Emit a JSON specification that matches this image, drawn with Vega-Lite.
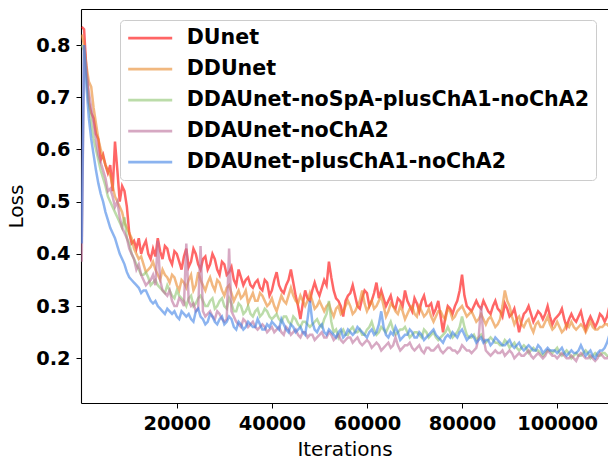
{
  "$schema": "https://vega.github.io/schema/vega-lite/v6.json",
  "autosize": "none",
  "width": 527,
  "height": 394,
  "padding": {"left": 81, "top": 9, "right": 0, "bottom": 58},
  "background": "white",
  "config": {
    "view": {"stroke": null},
    "font": "DejaVu Sans",
    "axis": {
      "labelFont": "DejaVu Sans", "labelFontWeight": "bold", "labelFontSize": 19.4, "labelColor": "black",
      "titleFont": "DejaVu Sans", "titleFontWeight": "normal", "titleFontSize": 20, "titleColor": "black",
      "tickColor": "black", "domainColor": "black", "tickSize": 5, "tickWidth": 1, "domainWidth": 1.1, "grid": false
    }
  },
  "datasets": {
    "loss": [
      {"x":0,"DUnet":0.835,"DDUnet":0.82,"DDAUnet-noSpA-plusChA1-noChA2":0.80,"DDAUnet-noChA2":0.385,"DDAUnet-plusChA1-noChA2":0.42},
      {"x":500,"DUnet":0.83,"DDUnet":0.80,"DDAUnet-noSpA-plusChA1-noChA2":0.79,"DDAUnet-noChA2":0.80,"DDAUnet-plusChA1-noChA2":0.80},
      {"x":1000,"DUnet":0.75,"DDUnet":0.76,"DDAUnet-noSpA-plusChA1-noChA2":0.74,"DDAUnet-noChA2":0.75,"DDAUnet-plusChA1-noChA2":0.72},
      {"x":1500,"DUnet":0.69,"DDUnet":0.73,"DDAUnet-noSpA-plusChA1-noChA2":0.69,"DDAUnet-noChA2":0.71,"DDAUnet-plusChA1-noChA2":0.66},
      {"x":2000,"DUnet":0.67,"DDUnet":0.72,"DDAUnet-noSpA-plusChA1-noChA2":0.65,"DDAUnet-noChA2":0.68,"DDAUnet-plusChA1-noChA2":0.62},
      {"x":2500,"DUnet":0.66,"DDUnet":0.68,"DDAUnet-noSpA-plusChA1-noChA2":0.62,"DDAUnet-noChA2":0.65,"DDAUnet-plusChA1-noChA2":0.59},
      {"x":3000,"DUnet":0.63,"DDUnet":0.65,"DDAUnet-noSpA-plusChA1-noChA2":0.60,"DDAUnet-noChA2":0.62,"DDAUnet-plusChA1-noChA2":0.56},
      {"x":3500,"DUnet":0.62,"DDUnet":0.62,"DDAUnet-noSpA-plusChA1-noChA2":0.58,"DDAUnet-noChA2":0.59,"DDAUnet-plusChA1-noChA2":0.535},
      {"x":4000,"DUnet":0.58,"DDUnet":0.60,"DDAUnet-noSpA-plusChA1-noChA2":0.56,"DDAUnet-noChA2":0.575,"DDAUnet-plusChA1-noChA2":0.515},
      {"x":4500,"DUnet":0.59,"DDUnet":0.585,"DDAUnet-noSpA-plusChA1-noChA2":0.545,"DDAUnet-noChA2":0.56,"DDAUnet-plusChA1-noChA2":0.50},
      {"x":5000,"DUnet":0.57,"DDUnet":0.57,"DDAUnet-noSpA-plusChA1-noChA2":0.53,"DDAUnet-noChA2":0.545,"DDAUnet-plusChA1-noChA2":0.48},
      {"x":5500,"DUnet":0.555,"DDUnet":0.56,"DDAUnet-noSpA-plusChA1-noChA2":0.51,"DDAUnet-noChA2":0.52,"DDAUnet-plusChA1-noChA2":0.465},
      {"x":6000,"DUnet":0.57,"DDUnet":0.55,"DDAUnet-noSpA-plusChA1-noChA2":0.50,"DDAUnet-noChA2":0.525,"DDAUnet-plusChA1-noChA2":0.45},
      {"x":6500,"DUnet":0.52,"DDUnet":0.53,"DDAUnet-noSpA-plusChA1-noChA2":0.49,"DDAUnet-noChA2":0.51,"DDAUnet-plusChA1-noChA2":0.44},
      {"x":7000,"DUnet":0.615,"DDUnet":0.51,"DDAUnet-noSpA-plusChA1-noChA2":0.48,"DDAUnet-noChA2":0.49,"DDAUnet-plusChA1-noChA2":0.43},
      {"x":7500,"DUnet":0.56,"DDUnet":0.50,"DDAUnet-noSpA-plusChA1-noChA2":0.47,"DDAUnet-noChA2":0.50,"DDAUnet-plusChA1-noChA2":0.415},
      {"x":8000,"DUnet":0.50,"DDUnet":0.49,"DDAUnet-noSpA-plusChA1-noChA2":0.46,"DDAUnet-noChA2":0.47,"DDAUnet-plusChA1-noChA2":0.40},
      {"x":8500,"DUnet":0.53,"DDUnet":0.48,"DDAUnet-noSpA-plusChA1-noChA2":0.45,"DDAUnet-noChA2":0.45,"DDAUnet-plusChA1-noChA2":0.39},
      {"x":9000,"DUnet":0.52,"DDUnet":0.46,"DDAUnet-noSpA-plusChA1-noChA2":0.47,"DDAUnet-noChA2":0.44,"DDAUnet-plusChA1-noChA2":0.38},
      {"x":9500,"DUnet":0.49,"DDUnet":0.45,"DDAUnet-noSpA-plusChA1-noChA2":0.43,"DDAUnet-noChA2":0.43,"DDAUnet-plusChA1-noChA2":0.365},
      {"x":10000,"DUnet":0.44,"DDUnet":0.44,"DDAUnet-noSpA-plusChA1-noChA2":0.42,"DDAUnet-noChA2":0.41,"DDAUnet-plusChA1-noChA2":0.355},
      {"x":10500,"DUnet":0.42,"DDUnet":0.43,"DDAUnet-noSpA-plusChA1-noChA2":0.40,"DDAUnet-noChA2":0.40,"DDAUnet-plusChA1-noChA2":0.35},
      {"x":11000,"DUnet":0.425,"DDUnet":0.41,"DDAUnet-noSpA-plusChA1-noChA2":0.39,"DDAUnet-noChA2":0.39,"DDAUnet-plusChA1-noChA2":0.345},
      {"x":11500,"DUnet":0.41,"DDUnet":0.40,"DDAUnet-noSpA-plusChA1-noChA2":0.38,"DDAUnet-noChA2":0.37,"DDAUnet-plusChA1-noChA2":0.34},
      {"x":12000,"DUnet":0.43,"DDUnet":0.39,"DDAUnet-noSpA-plusChA1-noChA2":0.37,"DDAUnet-noChA2":0.38,"DDAUnet-plusChA1-noChA2":0.335},
      {"x":13000,"DUnet":0.415,"DDUnet":0.38,"DDAUnet-noSpA-plusChA1-noChA2":0.36,"DDAUnet-noChA2":0.35,"DDAUnet-plusChA1-noChA2":0.33},
      {"x":14000,"DUnet":0.40,"DDUnet":0.37,"DDAUnet-noSpA-plusChA1-noChA2":0.355,"DDAUnet-noChA2":0.345,"DDAUnet-plusChA1-noChA2":0.32},
      {"x":15000,"DUnet":0.41,"DDUnet":0.385,"DDAUnet-noSpA-plusChA1-noChA2":0.345,"DDAUnet-noChA2":0.36,"DDAUnet-plusChA1-noChA2":0.305},
      {"x":16000,"DUnet":0.43,"DDUnet":0.36,"DDAUnet-noSpA-plusChA1-noChA2":0.34,"DDAUnet-noChA2":0.425,"DDAUnet-plusChA1-noChA2":0.30},
      {"x":17000,"DUnet":0.39,"DDUnet":0.37,"DDAUnet-noSpA-plusChA1-noChA2":0.33,"DDAUnet-noChA2":0.33,"DDAUnet-plusChA1-noChA2":0.29},
      {"x":18000,"DUnet":0.41,"DDUnet":0.355,"DDAUnet-noSpA-plusChA1-noChA2":0.34,"DDAUnet-noChA2":0.32,"DDAUnet-plusChA1-noChA2":0.295},
      {"x":19000,"DUnet":0.38,"DDUnet":0.36,"DDAUnet-noSpA-plusChA1-noChA2":0.32,"DDAUnet-noChA2":0.31,"DDAUnet-plusChA1-noChA2":0.285},
      {"x":20000,"DUnet":0.40,"DDUnet":0.34,"DDAUnet-noSpA-plusChA1-noChA2":0.33,"DDAUnet-noChA2":0.30,"DDAUnet-plusChA1-noChA2":0.28},
      {"x":21000,"DUnet":0.37,"DDUnet":0.35,"DDAUnet-noSpA-plusChA1-noChA2":0.315,"DDAUnet-noChA2":0.31,"DDAUnet-plusChA1-noChA2":0.29},
      {"x":22000,"DUnet":0.41,"DDUnet":0.335,"DDAUnet-noSpA-plusChA1-noChA2":0.30,"DDAUnet-noChA2":0.42,"DDAUnet-plusChA1-noChA2":0.28},
      {"x":23000,"DUnet":0.385,"DDUnet":0.36,"DDAUnet-noSpA-plusChA1-noChA2":0.32,"DDAUnet-noChA2":0.30,"DDAUnet-plusChA1-noChA2":0.275},
      {"x":24000,"DUnet":0.40,"DDUnet":0.34,"DDAUnet-noSpA-plusChA1-noChA2":0.305,"DDAUnet-noChA2":0.29,"DDAUnet-plusChA1-noChA2":0.29},
      {"x":25000,"DUnet":0.37,"DDUnet":0.35,"DDAUnet-noSpA-plusChA1-noChA2":0.32,"DDAUnet-noChA2":0.415,"DDAUnet-plusChA1-noChA2":0.28},
      {"x":26000,"DUnet":0.395,"DDUnet":0.33,"DDAUnet-noSpA-plusChA1-noChA2":0.30,"DDAUnet-noChA2":0.28,"DDAUnet-plusChA1-noChA2":0.265},
      {"x":27000,"DUnet":0.38,"DDUnet":0.355,"DDAUnet-noSpA-plusChA1-noChA2":0.31,"DDAUnet-noChA2":0.29,"DDAUnet-plusChA1-noChA2":0.285},
      {"x":28000,"DUnet":0.39,"DDUnet":0.33,"DDAUnet-noSpA-plusChA1-noChA2":0.295,"DDAUnet-noChA2":0.275,"DDAUnet-plusChA1-noChA2":0.27},
      {"x":29000,"DUnet":0.36,"DDUnet":0.345,"DDAUnet-noSpA-plusChA1-noChA2":0.31,"DDAUnet-noChA2":0.285,"DDAUnet-plusChA1-noChA2":0.275},
      {"x":30000,"DUnet":0.38,"DDUnet":0.32,"DDAUnet-noSpA-plusChA1-noChA2":0.30,"DDAUnet-noChA2":0.27,"DDAUnet-plusChA1-noChA2":0.265},
      {"x":31000,"DUnet":0.365,"DDUnet":0.34,"DDAUnet-noSpA-plusChA1-noChA2":0.315,"DDAUnet-noChA2":0.41,"DDAUnet-plusChA1-noChA2":0.28},
      {"x":32000,"DUnet":0.35,"DDUnet":0.31,"DDAUnet-noSpA-plusChA1-noChA2":0.29,"DDAUnet-noChA2":0.28,"DDAUnet-plusChA1-noChA2":0.26},
      {"x":33000,"DUnet":0.37,"DDUnet":0.33,"DDAUnet-noSpA-plusChA1-noChA2":0.305,"DDAUnet-noChA2":0.265,"DDAUnet-plusChA1-noChA2":0.27},
      {"x":34000,"DUnet":0.34,"DDUnet":0.32,"DDAUnet-noSpA-plusChA1-noChA2":0.285,"DDAUnet-noChA2":0.275,"DDAUnet-plusChA1-noChA2":0.255},
      {"x":35000,"DUnet":0.355,"DDUnet":0.305,"DDAUnet-noSpA-plusChA1-noChA2":0.30,"DDAUnet-noChA2":0.26,"DDAUnet-plusChA1-noChA2":0.27},
      {"x":36000,"DUnet":0.335,"DDUnet":0.325,"DDAUnet-noSpA-plusChA1-noChA2":0.28,"DDAUnet-noChA2":0.27,"DDAUnet-plusChA1-noChA2":0.26},
      {"x":37000,"DUnet":0.35,"DDUnet":0.31,"DDAUnet-noSpA-plusChA1-noChA2":0.295,"DDAUnet-noChA2":0.255,"DDAUnet-plusChA1-noChA2":0.275},
      {"x":38000,"DUnet":0.33,"DDUnet":0.32,"DDAUnet-noSpA-plusChA1-noChA2":0.285,"DDAUnet-noChA2":0.265,"DDAUnet-plusChA1-noChA2":0.255},
      {"x":39000,"DUnet":0.345,"DDUnet":0.30,"DDAUnet-noSpA-plusChA1-noChA2":0.29,"DDAUnet-noChA2":0.25,"DDAUnet-plusChA1-noChA2":0.265},
      {"x":40000,"DUnet":0.33,"DDUnet":0.315,"DDAUnet-noSpA-plusChA1-noChA2":0.275,"DDAUnet-noChA2":0.26,"DDAUnet-plusChA1-noChA2":0.27},
      {"x":41000,"DUnet":0.365,"DDUnet":0.29,"DDAUnet-noSpA-plusChA1-noChA2":0.285,"DDAUnet-noChA2":0.255,"DDAUnet-plusChA1-noChA2":0.26},
      {"x":42000,"DUnet":0.33,"DDUnet":0.32,"DDAUnet-noSpA-plusChA1-noChA2":0.27,"DDAUnet-noChA2":0.25,"DDAUnet-plusChA1-noChA2":0.275},
      {"x":43000,"DUnet":0.34,"DDUnet":0.305,"DDAUnet-noSpA-plusChA1-noChA2":0.28,"DDAUnet-noChA2":0.26,"DDAUnet-plusChA1-noChA2":0.255},
      {"x":44000,"DUnet":0.37,"DDUnet":0.335,"DDAUnet-noSpA-plusChA1-noChA2":0.265,"DDAUnet-noChA2":0.245,"DDAUnet-plusChA1-noChA2":0.265},
      {"x":45000,"DUnet":0.32,"DDUnet":0.31,"DDAUnet-noSpA-plusChA1-noChA2":0.275,"DDAUnet-noChA2":0.255,"DDAUnet-plusChA1-noChA2":0.25},
      {"x":46000,"DUnet":0.275,"DDUnet":0.32,"DDAUnet-noSpA-plusChA1-noChA2":0.26,"DDAUnet-noChA2":0.24,"DDAUnet-plusChA1-noChA2":0.26},
      {"x":47000,"DUnet":0.33,"DDUnet":0.30,"DDAUnet-noSpA-plusChA1-noChA2":0.27,"DDAUnet-noChA2":0.25,"DDAUnet-plusChA1-noChA2":0.245},
      {"x":48000,"DUnet":0.31,"DDUnet":0.325,"DDAUnet-noSpA-plusChA1-noChA2":0.26,"DDAUnet-noChA2":0.245,"DDAUnet-plusChA1-noChA2":0.31},
      {"x":49000,"DUnet":0.345,"DDUnet":0.295,"DDAUnet-noSpA-plusChA1-noChA2":0.27,"DDAUnet-noChA2":0.235,"DDAUnet-plusChA1-noChA2":0.255},
      {"x":50000,"DUnet":0.32,"DDUnet":0.31,"DDAUnet-noSpA-plusChA1-noChA2":0.265,"DDAUnet-noChA2":0.245,"DDAUnet-plusChA1-noChA2":0.26},
      {"x":51000,"DUnet":0.35,"DDUnet":0.29,"DDAUnet-noSpA-plusChA1-noChA2":0.275,"DDAUnet-noChA2":0.24,"DDAUnet-plusChA1-noChA2":0.25},
      {"x":52000,"DUnet":0.385,"DDUnet":0.305,"DDAUnet-noSpA-plusChA1-noChA2":0.31,"DDAUnet-noChA2":0.25,"DDAUnet-plusChA1-noChA2":0.255},
      {"x":53000,"DUnet":0.33,"DDUnet":0.28,"DDAUnet-noSpA-plusChA1-noChA2":0.25,"DDAUnet-noChA2":0.235,"DDAUnet-plusChA1-noChA2":0.245},
      {"x":54000,"DUnet":0.31,"DDUnet":0.30,"DDAUnet-noSpA-plusChA1-noChA2":0.24,"DDAUnet-noChA2":0.245,"DDAUnet-plusChA1-noChA2":0.25},
      {"x":55000,"DUnet":0.28,"DDUnet":0.29,"DDAUnet-noSpA-plusChA1-noChA2":0.255,"DDAUnet-noChA2":0.23,"DDAUnet-plusChA1-noChA2":0.24},
      {"x":56000,"DUnet":0.32,"DDUnet":0.31,"DDAUnet-noSpA-plusChA1-noChA2":0.245,"DDAUnet-noChA2":0.24,"DDAUnet-plusChA1-noChA2":0.255},
      {"x":57000,"DUnet":0.34,"DDUnet":0.285,"DDAUnet-noSpA-plusChA1-noChA2":0.26,"DDAUnet-noChA2":0.23,"DDAUnet-plusChA1-noChA2":0.245},
      {"x":58000,"DUnet":0.30,"DDUnet":0.30,"DDAUnet-noSpA-plusChA1-noChA2":0.25,"DDAUnet-noChA2":0.24,"DDAUnet-plusChA1-noChA2":0.26},
      {"x":59000,"DUnet":0.315,"DDUnet":0.33,"DDAUnet-noSpA-plusChA1-noChA2":0.245,"DDAUnet-noChA2":0.225,"DDAUnet-plusChA1-noChA2":0.25},
      {"x":60000,"DUnet":0.325,"DDUnet":0.29,"DDAUnet-noSpA-plusChA1-noChA2":0.255,"DDAUnet-noChA2":0.235,"DDAUnet-plusChA1-noChA2":0.24},
      {"x":61000,"DUnet":0.31,"DDUnet":0.31,"DDAUnet-noSpA-plusChA1-noChA2":0.27,"DDAUnet-noChA2":0.22,"DDAUnet-plusChA1-noChA2":0.255},
      {"x":62000,"DUnet":0.345,"DDUnet":0.30,"DDAUnet-noSpA-plusChA1-noChA2":0.245,"DDAUnet-noChA2":0.23,"DDAUnet-plusChA1-noChA2":0.25},
      {"x":63000,"DUnet":0.33,"DDUnet":0.32,"DDAUnet-noSpA-plusChA1-noChA2":0.26,"DDAUnet-noChA2":0.215,"DDAUnet-plusChA1-noChA2":0.29},
      {"x":64000,"DUnet":0.30,"DDUnet":0.28,"DDAUnet-noSpA-plusChA1-noChA2":0.25,"DDAUnet-noChA2":0.225,"DDAUnet-plusChA1-noChA2":0.245},
      {"x":65000,"DUnet":0.32,"DDUnet":0.305,"DDAUnet-noSpA-plusChA1-noChA2":0.27,"DDAUnet-noChA2":0.22,"DDAUnet-plusChA1-noChA2":0.25},
      {"x":66000,"DUnet":0.295,"DDUnet":0.29,"DDAUnet-noSpA-plusChA1-noChA2":0.245,"DDAUnet-noChA2":0.24,"DDAUnet-plusChA1-noChA2":0.26},
      {"x":67000,"DUnet":0.31,"DDUnet":0.30,"DDAUnet-noSpA-plusChA1-noChA2":0.255,"DDAUnet-noChA2":0.215,"DDAUnet-plusChA1-noChA2":0.235},
      {"x":68000,"DUnet":0.33,"DDUnet":0.275,"DDAUnet-noSpA-plusChA1-noChA2":0.26,"DDAUnet-noChA2":0.225,"DDAUnet-plusChA1-noChA2":0.245},
      {"x":69000,"DUnet":0.30,"DDUnet":0.295,"DDAUnet-noSpA-plusChA1-noChA2":0.24,"DDAUnet-noChA2":0.23,"DDAUnet-plusChA1-noChA2":0.255},
      {"x":70000,"DUnet":0.315,"DDUnet":0.285,"DDAUnet-noSpA-plusChA1-noChA2":0.25,"DDAUnet-noChA2":0.215,"DDAUnet-plusChA1-noChA2":0.24},
      {"x":71000,"DUnet":0.29,"DDUnet":0.30,"DDAUnet-noSpA-plusChA1-noChA2":0.245,"DDAUnet-noChA2":0.225,"DDAUnet-plusChA1-noChA2":0.25},
      {"x":72000,"DUnet":0.32,"DDUnet":0.28,"DDAUnet-noSpA-plusChA1-noChA2":0.255,"DDAUnet-noChA2":0.21,"DDAUnet-plusChA1-noChA2":0.235},
      {"x":73000,"DUnet":0.30,"DDUnet":0.295,"DDAUnet-noSpA-plusChA1-noChA2":0.24,"DDAUnet-noChA2":0.22,"DDAUnet-plusChA1-noChA2":0.245},
      {"x":74000,"DUnet":0.285,"DDUnet":0.27,"DDAUnet-noSpA-plusChA1-noChA2":0.25,"DDAUnet-noChA2":0.215,"DDAUnet-plusChA1-noChA2":0.255},
      {"x":75000,"DUnet":0.31,"DDUnet":0.29,"DDAUnet-noSpA-plusChA1-noChA2":0.235,"DDAUnet-noChA2":0.225,"DDAUnet-plusChA1-noChA2":0.24},
      {"x":76000,"DUnet":0.25,"DDUnet":0.28,"DDAUnet-noSpA-plusChA1-noChA2":0.245,"DDAUnet-noChA2":0.21,"DDAUnet-plusChA1-noChA2":0.23},
      {"x":77000,"DUnet":0.30,"DDUnet":0.295,"DDAUnet-noSpA-plusChA1-noChA2":0.26,"DDAUnet-noChA2":0.22,"DDAUnet-plusChA1-noChA2":0.245},
      {"x":78000,"DUnet":0.285,"DDUnet":0.275,"DDAUnet-noSpA-plusChA1-noChA2":0.24,"DDAUnet-noChA2":0.215,"DDAUnet-plusChA1-noChA2":0.25},
      {"x":79000,"DUnet":0.31,"DDUnet":0.29,"DDAUnet-noSpA-plusChA1-noChA2":0.25,"DDAUnet-noChA2":0.21,"DDAUnet-plusChA1-noChA2":0.24},
      {"x":80000,"DUnet":0.36,"DDUnet":0.30,"DDAUnet-noSpA-plusChA1-noChA2":0.28,"DDAUnet-noChA2":0.225,"DDAUnet-plusChA1-noChA2":0.255},
      {"x":81000,"DUnet":0.30,"DDUnet":0.28,"DDAUnet-noSpA-plusChA1-noChA2":0.245,"DDAUnet-noChA2":0.215,"DDAUnet-plusChA1-noChA2":0.235},
      {"x":82000,"DUnet":0.29,"DDUnet":0.29,"DDAUnet-noSpA-plusChA1-noChA2":0.24,"DDAUnet-noChA2":0.21,"DDAUnet-plusChA1-noChA2":0.245},
      {"x":83000,"DUnet":0.31,"DDUnet":0.27,"DDAUnet-noSpA-plusChA1-noChA2":0.235,"DDAUnet-noChA2":0.22,"DDAUnet-plusChA1-noChA2":0.23},
      {"x":84000,"DUnet":0.295,"DDUnet":0.285,"DDAUnet-noSpA-plusChA1-noChA2":0.245,"DDAUnet-noChA2":0.30,"DDAUnet-plusChA1-noChA2":0.24},
      {"x":85000,"DUnet":0.30,"DDUnet":0.265,"DDAUnet-noSpA-plusChA1-noChA2":0.23,"DDAUnet-noChA2":0.215,"DDAUnet-plusChA1-noChA2":0.235},
      {"x":86000,"DUnet":0.285,"DDUnet":0.28,"DDAUnet-noSpA-plusChA1-noChA2":0.24,"DDAUnet-noChA2":0.205,"DDAUnet-plusChA1-noChA2":0.225},
      {"x":87000,"DUnet":0.31,"DDUnet":0.26,"DDAUnet-noSpA-plusChA1-noChA2":0.23,"DDAUnet-noChA2":0.215,"DDAUnet-plusChA1-noChA2":0.24},
      {"x":88000,"DUnet":0.29,"DDUnet":0.275,"DDAUnet-noSpA-plusChA1-noChA2":0.225,"DDAUnet-noChA2":0.21,"DDAUnet-plusChA1-noChA2":0.23},
      {"x":89000,"DUnet":0.305,"DDUnet":0.33,"DDAUnet-noSpA-plusChA1-noChA2":0.235,"DDAUnet-noChA2":0.205,"DDAUnet-plusChA1-noChA2":0.225},
      {"x":90000,"DUnet":0.28,"DDUnet":0.30,"DDAUnet-noSpA-plusChA1-noChA2":0.22,"DDAUnet-noChA2":0.215,"DDAUnet-plusChA1-noChA2":0.235},
      {"x":91000,"DUnet":0.295,"DDUnet":0.265,"DDAUnet-noSpA-plusChA1-noChA2":0.23,"DDAUnet-noChA2":0.20,"DDAUnet-plusChA1-noChA2":0.22},
      {"x":92000,"DUnet":0.25,"DDUnet":0.28,"DDAUnet-noSpA-plusChA1-noChA2":0.215,"DDAUnet-noChA2":0.21,"DDAUnet-plusChA1-noChA2":0.23},
      {"x":93000,"DUnet":0.285,"DDUnet":0.26,"DDAUnet-noSpA-plusChA1-noChA2":0.225,"DDAUnet-noChA2":0.205,"DDAUnet-plusChA1-noChA2":0.215},
      {"x":94000,"DUnet":0.30,"DDUnet":0.275,"DDAUnet-noSpA-plusChA1-noChA2":0.21,"DDAUnet-noChA2":0.215,"DDAUnet-plusChA1-noChA2":0.225},
      {"x":95000,"DUnet":0.27,"DDUnet":0.25,"DDAUnet-noSpA-plusChA1-noChA2":0.22,"DDAUnet-noChA2":0.20,"DDAUnet-plusChA1-noChA2":0.215},
      {"x":96000,"DUnet":0.29,"DDUnet":0.27,"DDAUnet-noSpA-plusChA1-noChA2":0.215,"DDAUnet-noChA2":0.21,"DDAUnet-plusChA1-noChA2":0.225},
      {"x":97000,"DUnet":0.275,"DDUnet":0.26,"DDAUnet-noSpA-plusChA1-noChA2":0.205,"DDAUnet-noChA2":0.20,"DDAUnet-plusChA1-noChA2":0.21},
      {"x":98000,"DUnet":0.30,"DDUnet":0.28,"DDAUnet-noSpA-plusChA1-noChA2":0.215,"DDAUnet-noChA2":0.215,"DDAUnet-plusChA1-noChA2":0.22},
      {"x":99000,"DUnet":0.265,"DDUnet":0.255,"DDAUnet-noSpA-plusChA1-noChA2":0.21,"DDAUnet-noChA2":0.205,"DDAUnet-plusChA1-noChA2":0.215},
      {"x":100000,"DUnet":0.28,"DDUnet":0.27,"DDAUnet-noSpA-plusChA1-noChA2":0.22,"DDAUnet-noChA2":0.20,"DDAUnet-plusChA1-noChA2":0.21},
      {"x":101000,"DUnet":0.295,"DDUnet":0.25,"DDAUnet-noSpA-plusChA1-noChA2":0.205,"DDAUnet-noChA2":0.21,"DDAUnet-plusChA1-noChA2":0.22},
      {"x":102000,"DUnet":0.26,"DDUnet":0.265,"DDAUnet-noSpA-plusChA1-noChA2":0.215,"DDAUnet-noChA2":0.20,"DDAUnet-plusChA1-noChA2":0.205},
      {"x":103000,"DUnet":0.285,"DDUnet":0.27,"DDAUnet-noSpA-plusChA1-noChA2":0.20,"DDAUnet-noChA2":0.205,"DDAUnet-plusChA1-noChA2":0.215},
      {"x":104000,"DUnet":0.27,"DDUnet":0.255,"DDAUnet-noSpA-plusChA1-noChA2":0.21,"DDAUnet-noChA2":0.195,"DDAUnet-plusChA1-noChA2":0.21},
      {"x":105000,"DUnet":0.29,"DDUnet":0.265,"DDAUnet-noSpA-plusChA1-noChA2":0.205,"DDAUnet-noChA2":0.21,"DDAUnet-plusChA1-noChA2":0.225},
      {"x":106000,"DUnet":0.255,"DDUnet":0.25,"DDAUnet-noSpA-plusChA1-noChA2":0.215,"DDAUnet-noChA2":0.20,"DDAUnet-plusChA1-noChA2":0.205},
      {"x":107000,"DUnet":0.28,"DDUnet":0.27,"DDAUnet-noSpA-plusChA1-noChA2":0.20,"DDAUnet-noChA2":0.205,"DDAUnet-plusChA1-noChA2":0.215},
      {"x":108000,"DUnet":0.26,"DDUnet":0.255,"DDAUnet-noSpA-plusChA1-noChA2":0.21,"DDAUnet-noChA2":0.195,"DDAUnet-plusChA1-noChA2":0.20},
      {"x":109000,"DUnet":0.285,"DDUnet":0.26,"DDAUnet-noSpA-plusChA1-noChA2":0.205,"DDAUnet-noChA2":0.21,"DDAUnet-plusChA1-noChA2":0.215},
      {"x":110000,"DUnet":0.27,"DDUnet":0.265,"DDAUnet-noSpA-plusChA1-noChA2":0.21,"DDAUnet-noChA2":0.20,"DDAUnet-plusChA1-noChA2":0.22},
      {"x":111000,"DUnet":0.30,"DDUnet":0.26,"DDAUnet-noSpA-plusChA1-noChA2":0.205,"DDAUnet-noChA2":0.205,"DDAUnet-plusChA1-noChA2":0.245},
      {"x":12500,"DUnet":0.40,"DDUnet":0.395,"DDAUnet-noSpA-plusChA1-noChA2":0.36,"DDAUnet-noChA2":0.36,"DDAUnet-plusChA1-noChA2":0.325},
      {"x":13500,"DUnet":0.425,"DDUnet":0.365,"DDAUnet-noSpA-plusChA1-noChA2":0.365,"DDAUnet-noChA2":0.34,"DDAUnet-plusChA1-noChA2":0.33},
      {"x":14500,"DUnet":0.39,"DDUnet":0.375,"DDAUnet-noSpA-plusChA1-noChA2":0.34,"DDAUnet-noChA2":0.35,"DDAUnet-plusChA1-noChA2":0.31},
      {"x":15500,"DUnet":0.395,"DDUnet":0.37,"DDAUnet-noSpA-plusChA1-noChA2":0.35,"DDAUnet-noChA2":0.34,"DDAUnet-plusChA1-noChA2":0.31},
      {"x":16500,"DUnet":0.405,"DDUnet":0.35,"DDAUnet-noSpA-plusChA1-noChA2":0.335,"DDAUnet-noChA2":0.35,"DDAUnet-plusChA1-noChA2":0.295},
      {"x":17500,"DUnet":0.415,"DDUnet":0.36,"DDAUnet-noSpA-plusChA1-noChA2":0.325,"DDAUnet-noChA2":0.325,"DDAUnet-plusChA1-noChA2":0.285},
      {"x":18500,"DUnet":0.39,"DDUnet":0.345,"DDAUnet-noSpA-plusChA1-noChA2":0.33,"DDAUnet-noChA2":0.33,"DDAUnet-plusChA1-noChA2":0.29},
      {"x":19500,"DUnet":0.405,"DDUnet":0.355,"DDAUnet-noSpA-plusChA1-noChA2":0.315,"DDAUnet-noChA2":0.30,"DDAUnet-plusChA1-noChA2":0.29},
      {"x":20500,"DUnet":0.385,"DDUnet":0.33,"DDAUnet-noSpA-plusChA1-noChA2":0.32,"DDAUnet-noChA2":0.315,"DDAUnet-plusChA1-noChA2":0.275},
      {"x":21500,"DUnet":0.395,"DDUnet":0.345,"DDAUnet-noSpA-plusChA1-noChA2":0.31,"DDAUnet-noChA2":0.30,"DDAUnet-plusChA1-noChA2":0.285},
      {"x":22500,"DUnet":0.375,"DDUnet":0.35,"DDAUnet-noSpA-plusChA1-noChA2":0.315,"DDAUnet-noChA2":0.31,"DDAUnet-plusChA1-noChA2":0.285},
      {"x":23500,"DUnet":0.41,"DDUnet":0.33,"DDAUnet-noSpA-plusChA1-noChA2":0.30,"DDAUnet-noChA2":0.305,"DDAUnet-plusChA1-noChA2":0.27},
      {"x":24500,"DUnet":0.38,"DDUnet":0.365,"DDAUnet-noSpA-plusChA1-noChA2":0.315,"DDAUnet-noChA2":0.295,"DDAUnet-plusChA1-noChA2":0.295},
      {"x":25500,"DUnet":0.39,"DDUnet":0.34,"DDAUnet-noSpA-plusChA1-noChA2":0.31,"DDAUnet-noChA2":0.29,"DDAUnet-plusChA1-noChA2":0.275},
      {"x":26500,"DUnet":0.37,"DDUnet":0.345,"DDAUnet-noSpA-plusChA1-noChA2":0.30,"DDAUnet-noChA2":0.285,"DDAUnet-plusChA1-noChA2":0.27},
      {"x":27500,"DUnet":0.40,"DDUnet":0.34,"DDAUnet-noSpA-plusChA1-noChA2":0.315,"DDAUnet-noChA2":0.28,"DDAUnet-plusChA1-noChA2":0.28},
      {"x":28500,"DUnet":0.37,"DDUnet":0.35,"DDAUnet-noSpA-plusChA1-noChA2":0.30,"DDAUnet-noChA2":0.29,"DDAUnet-plusChA1-noChA2":0.265},
      {"x":29500,"DUnet":0.385,"DDUnet":0.33,"DDAUnet-noSpA-plusChA1-noChA2":0.315,"DDAUnet-noChA2":0.275,"DDAUnet-plusChA1-noChA2":0.28},
      {"x":30500,"DUnet":0.36,"DDUnet":0.335,"DDAUnet-noSpA-plusChA1-noChA2":0.295,"DDAUnet-noChA2":0.275,"DDAUnet-plusChA1-noChA2":0.27},
      {"x":31500,"DUnet":0.375,"DDUnet":0.325,"DDAUnet-noSpA-plusChA1-noChA2":0.305,"DDAUnet-noChA2":0.29,"DDAUnet-plusChA1-noChA2":0.275},
      {"x":32500,"DUnet":0.34,"DDUnet":0.32,"DDAUnet-noSpA-plusChA1-noChA2":0.29,"DDAUnet-noChA2":0.27,"DDAUnet-plusChA1-noChA2":0.255},
      {"x":33500,"DUnet":0.355,"DDUnet":0.315,"DDAUnet-noSpA-plusChA1-noChA2":0.30,"DDAUnet-noChA2":0.26,"DDAUnet-plusChA1-noChA2":0.265},
      {"x":34500,"DUnet":0.35,"DDUnet":0.33,"DDAUnet-noSpA-plusChA1-noChA2":0.29,"DDAUnet-noChA2":0.27,"DDAUnet-plusChA1-noChA2":0.26},
      {"x":35500,"DUnet":0.34,"DDUnet":0.315,"DDAUnet-noSpA-plusChA1-noChA2":0.285,"DDAUnet-noChA2":0.265,"DDAUnet-plusChA1-noChA2":0.265},
      {"x":36500,"DUnet":0.345,"DDUnet":0.31,"DDAUnet-noSpA-plusChA1-noChA2":0.29,"DDAUnet-noChA2":0.26,"DDAUnet-plusChA1-noChA2":0.26},
      {"x":37500,"DUnet":0.335,"DDUnet":0.325,"DDAUnet-noSpA-plusChA1-noChA2":0.28,"DDAUnet-noChA2":0.26,"DDAUnet-plusChA1-noChA2":0.265},
      {"x":38500,"DUnet":0.35,"DDUnet":0.31,"DDAUnet-noSpA-plusChA1-noChA2":0.295,"DDAUnet-noChA2":0.26,"DDAUnet-plusChA1-noChA2":0.255},
      {"x":39500,"DUnet":0.32,"DDUnet":0.305,"DDAUnet-noSpA-plusChA1-noChA2":0.28,"DDAUnet-noChA2":0.255,"DDAUnet-plusChA1-noChA2":0.26},
      {"x":40500,"DUnet":0.35,"DDUnet":0.30,"DDAUnet-noSpA-plusChA1-noChA2":0.28,"DDAUnet-noChA2":0.25,"DDAUnet-plusChA1-noChA2":0.265},
      {"x":41500,"DUnet":0.34,"DDUnet":0.305,"DDAUnet-noSpA-plusChA1-noChA2":0.275,"DDAUnet-noChA2":0.26,"DDAUnet-plusChA1-noChA2":0.255},
      {"x":42500,"DUnet":0.325,"DDUnet":0.31,"DDAUnet-noSpA-plusChA1-noChA2":0.28,"DDAUnet-noChA2":0.245,"DDAUnet-plusChA1-noChA2":0.265},
      {"x":43500,"DUnet":0.35,"DDUnet":0.32,"DDAUnet-noSpA-plusChA1-noChA2":0.27,"DDAUnet-noChA2":0.255,"DDAUnet-plusChA1-noChA2":0.25},
      {"x":44500,"DUnet":0.345,"DDUnet":0.32,"DDAUnet-noSpA-plusChA1-noChA2":0.28,"DDAUnet-noChA2":0.25,"DDAUnet-plusChA1-noChA2":0.26},
      {"x":45500,"DUnet":0.30,"DDUnet":0.305,"DDAUnet-noSpA-plusChA1-noChA2":0.265,"DDAUnet-noChA2":0.245,"DDAUnet-plusChA1-noChA2":0.255},
      {"x":46500,"DUnet":0.305,"DDUnet":0.31,"DDAUnet-noSpA-plusChA1-noChA2":0.27,"DDAUnet-noChA2":0.25,"DDAUnet-plusChA1-noChA2":0.25},
      {"x":47500,"DUnet":0.315,"DDUnet":0.31,"DDAUnet-noSpA-plusChA1-noChA2":0.265,"DDAUnet-noChA2":0.24,"DDAUnet-plusChA1-noChA2":0.275},
      {"x":48500,"DUnet":0.33,"DDUnet":0.31,"DDAUnet-noSpA-plusChA1-noChA2":0.265,"DDAUnet-noChA2":0.245,"DDAUnet-plusChA1-noChA2":0.27},
      {"x":49500,"DUnet":0.33,"DDUnet":0.30,"DDAUnet-noSpA-plusChA1-noChA2":0.275,"DDAUnet-noChA2":0.24,"DDAUnet-plusChA1-noChA2":0.25},
      {"x":50500,"DUnet":0.335,"DDUnet":0.30,"DDAUnet-noSpA-plusChA1-noChA2":0.26,"DDAUnet-noChA2":0.25,"DDAUnet-plusChA1-noChA2":0.265},
      {"x":51500,"DUnet":0.34,"DDUnet":0.30,"DDAUnet-noSpA-plusChA1-noChA2":0.285,"DDAUnet-noChA2":0.24,"DDAUnet-plusChA1-noChA2":0.245},
      {"x":52500,"DUnet":0.355,"DDUnet":0.29,"DDAUnet-noSpA-plusChA1-noChA2":0.27,"DDAUnet-noChA2":0.245,"DDAUnet-plusChA1-noChA2":0.25},
      {"x":53500,"DUnet":0.315,"DDUnet":0.295,"DDAUnet-noSpA-plusChA1-noChA2":0.255,"DDAUnet-noChA2":0.24,"DDAUnet-plusChA1-noChA2":0.24},
      {"x":54500,"DUnet":0.30,"DDUnet":0.285,"DDAUnet-noSpA-plusChA1-noChA2":0.25,"DDAUnet-noChA2":0.235,"DDAUnet-plusChA1-noChA2":0.255},
      {"x":55500,"DUnet":0.31,"DDUnet":0.30,"DDAUnet-noSpA-plusChA1-noChA2":0.245,"DDAUnet-noChA2":0.235,"DDAUnet-plusChA1-noChA2":0.245},
      {"x":56500,"DUnet":0.325,"DDUnet":0.30,"DDAUnet-noSpA-plusChA1-noChA2":0.255,"DDAUnet-noChA2":0.24,"DDAUnet-plusChA1-noChA2":0.25},
      {"x":57500,"DUnet":0.32,"DDUnet":0.29,"DDAUnet-noSpA-plusChA1-noChA2":0.25,"DDAUnet-noChA2":0.235,"DDAUnet-plusChA1-noChA2":0.25},
      {"x":58500,"DUnet":0.295,"DDUnet":0.31,"DDAUnet-noSpA-plusChA1-noChA2":0.255,"DDAUnet-noChA2":0.23,"DDAUnet-plusChA1-noChA2":0.255},
      {"x":59500,"DUnet":0.33,"DDUnet":0.305,"DDAUnet-noSpA-plusChA1-noChA2":0.245,"DDAUnet-noChA2":0.23,"DDAUnet-plusChA1-noChA2":0.245},
      {"x":60500,"DUnet":0.30,"DDUnet":0.30,"DDAUnet-noSpA-plusChA1-noChA2":0.26,"DDAUnet-noChA2":0.23,"DDAUnet-plusChA1-noChA2":0.25},
      {"x":61500,"DUnet":0.325,"DDUnet":0.295,"DDAUnet-noSpA-plusChA1-noChA2":0.255,"DDAUnet-noChA2":0.225,"DDAUnet-plusChA1-noChA2":0.245},
      {"x":62500,"DUnet":0.315,"DDUnet":0.31,"DDAUnet-noSpA-plusChA1-noChA2":0.25,"DDAUnet-noChA2":0.225,"DDAUnet-plusChA1-noChA2":0.265},
      {"x":63500,"DUnet":0.315,"DDUnet":0.30,"DDAUnet-noSpA-plusChA1-noChA2":0.255,"DDAUnet-noChA2":0.22,"DDAUnet-plusChA1-noChA2":0.26},
      {"x":64500,"DUnet":0.31,"DDUnet":0.29,"DDAUnet-noSpA-plusChA1-noChA2":0.26,"DDAUnet-noChA2":0.23,"DDAUnet-plusChA1-noChA2":0.24},
      {"x":65500,"DUnet":0.30,"DDUnet":0.30,"DDAUnet-noSpA-plusChA1-noChA2":0.255,"DDAUnet-noChA2":0.225,"DDAUnet-plusChA1-noChA2":0.245},
      {"x":66500,"DUnet":0.315,"DDUnet":0.285,"DDAUnet-noSpA-plusChA1-noChA2":0.25,"DDAUnet-noChA2":0.225,"DDAUnet-plusChA1-noChA2":0.25},
      {"x":67500,"DUnet":0.30,"DDUnet":0.29,"DDAUnet-noSpA-plusChA1-noChA2":0.255,"DDAUnet-noChA2":0.22,"DDAUnet-plusChA1-noChA2":0.24},
      {"x":68500,"DUnet":0.31,"DDUnet":0.285,"DDAUnet-noSpA-plusChA1-noChA2":0.25,"DDAUnet-noChA2":0.225,"DDAUnet-plusChA1-noChA2":0.245},
      {"x":69500,"DUnet":0.29,"DDUnet":0.30,"DDAUnet-noSpA-plusChA1-noChA2":0.245,"DDAUnet-noChA2":0.22,"DDAUnet-plusChA1-noChA2":0.25},
      {"x":70500,"DUnet":0.305,"DDUnet":0.28,"DDAUnet-noSpA-plusChA1-noChA2":0.25,"DDAUnet-noChA2":0.22,"DDAUnet-plusChA1-noChA2":0.24},
      {"x":71500,"DUnet":0.31,"DDUnet":0.29,"DDAUnet-noSpA-plusChA1-noChA2":0.24,"DDAUnet-noChA2":0.215,"DDAUnet-plusChA1-noChA2":0.245},
      {"x":72500,"DUnet":0.30,"DDUnet":0.285,"DDAUnet-noSpA-plusChA1-noChA2":0.25,"DDAUnet-noChA2":0.22,"DDAUnet-plusChA1-noChA2":0.24},
      {"x":73500,"DUnet":0.305,"DDUnet":0.28,"DDAUnet-noSpA-plusChA1-noChA2":0.245,"DDAUnet-noChA2":0.215,"DDAUnet-plusChA1-noChA2":0.25},
      {"x":74500,"DUnet":0.295,"DDUnet":0.28,"DDAUnet-noSpA-plusChA1-noChA2":0.24,"DDAUnet-noChA2":0.22,"DDAUnet-plusChA1-noChA2":0.245},
      {"x":75500,"DUnet":0.28,"DDUnet":0.29,"DDAUnet-noSpA-plusChA1-noChA2":0.24,"DDAUnet-noChA2":0.215,"DDAUnet-plusChA1-noChA2":0.235},
      {"x":76500,"DUnet":0.28,"DDUnet":0.275,"DDAUnet-noSpA-plusChA1-noChA2":0.25,"DDAUnet-noChA2":0.215,"DDAUnet-plusChA1-noChA2":0.24},
      {"x":77500,"DUnet":0.295,"DDUnet":0.29,"DDAUnet-noSpA-plusChA1-noChA2":0.25,"DDAUnet-noChA2":0.22,"DDAUnet-plusChA1-noChA2":0.24},
      {"x":78500,"DUnet":0.30,"DDUnet":0.28,"DDAUnet-noSpA-plusChA1-noChA2":0.245,"DDAUnet-noChA2":0.215,"DDAUnet-plusChA1-noChA2":0.245},
      {"x":79500,"DUnet":0.33,"DDUnet":0.295,"DDAUnet-noSpA-plusChA1-noChA2":0.26,"DDAUnet-noChA2":0.215,"DDAUnet-plusChA1-noChA2":0.25},
      {"x":80500,"DUnet":0.32,"DDUnet":0.29,"DDAUnet-noSpA-plusChA1-noChA2":0.26,"DDAUnet-noChA2":0.22,"DDAUnet-plusChA1-noChA2":0.245},
      {"x":81500,"DUnet":0.295,"DDUnet":0.285,"DDAUnet-noSpA-plusChA1-noChA2":0.24,"DDAUnet-noChA2":0.215,"DDAUnet-plusChA1-noChA2":0.24},
      {"x":82500,"DUnet":0.30,"DDUnet":0.28,"DDAUnet-noSpA-plusChA1-noChA2":0.245,"DDAUnet-noChA2":0.215,"DDAUnet-plusChA1-noChA2":0.24},
      {"x":83500,"DUnet":0.30,"DDUnet":0.275,"DDAUnet-noSpA-plusChA1-noChA2":0.24,"DDAUnet-noChA2":0.24,"DDAUnet-plusChA1-noChA2":0.235},
      {"x":84500,"DUnet":0.31,"DDUnet":0.275,"DDAUnet-noSpA-plusChA1-noChA2":0.235,"DDAUnet-noChA2":0.24,"DDAUnet-plusChA1-noChA2":0.23},
      {"x":85500,"DUnet":0.29,"DDUnet":0.275,"DDAUnet-noSpA-plusChA1-noChA2":0.235,"DDAUnet-noChA2":0.21,"DDAUnet-plusChA1-noChA2":0.235},
      {"x":86500,"DUnet":0.30,"DDUnet":0.27,"DDAUnet-noSpA-plusChA1-noChA2":0.235,"DDAUnet-noChA2":0.21,"DDAUnet-plusChA1-noChA2":0.23},
      {"x":87500,"DUnet":0.295,"DDUnet":0.265,"DDAUnet-noSpA-plusChA1-noChA2":0.23,"DDAUnet-noChA2":0.21,"DDAUnet-plusChA1-noChA2":0.235},
      {"x":88500,"DUnet":0.28,"DDUnet":0.30,"DDAUnet-noSpA-plusChA1-noChA2":0.225,"DDAUnet-noChA2":0.215,"DDAUnet-plusChA1-noChA2":0.225},
      {"x":89500,"DUnet":0.295,"DDUnet":0.31,"DDAUnet-noSpA-plusChA1-noChA2":0.23,"DDAUnet-noChA2":0.21,"DDAUnet-plusChA1-noChA2":0.23},
      {"x":90500,"DUnet":0.285,"DDUnet":0.28,"DDAUnet-noSpA-plusChA1-noChA2":0.225,"DDAUnet-noChA2":0.21,"DDAUnet-plusChA1-noChA2":0.225},
      {"x":91500,"DUnet":0.275,"DDUnet":0.275,"DDAUnet-noSpA-plusChA1-noChA2":0.22,"DDAUnet-noChA2":0.205,"DDAUnet-plusChA1-noChA2":0.225},
      {"x":92500,"DUnet":0.27,"DDUnet":0.265,"DDAUnet-noSpA-plusChA1-noChA2":0.22,"DDAUnet-noChA2":0.205,"DDAUnet-plusChA1-noChA2":0.22},
      {"x":93500,"DUnet":0.29,"DDUnet":0.27,"DDAUnet-noSpA-plusChA1-noChA2":0.22,"DDAUnet-noChA2":0.21,"DDAUnet-plusChA1-noChA2":0.22},
      {"x":94500,"DUnet":0.285,"DDUnet":0.26,"DDAUnet-noSpA-plusChA1-noChA2":0.215,"DDAUnet-noChA2":0.205,"DDAUnet-plusChA1-noChA2":0.22},
      {"x":95500,"DUnet":0.28,"DDUnet":0.265,"DDAUnet-noSpA-plusChA1-noChA2":0.215,"DDAUnet-noChA2":0.205,"DDAUnet-plusChA1-noChA2":0.215},
      {"x":96500,"DUnet":0.285,"DDUnet":0.26,"DDAUnet-noSpA-plusChA1-noChA2":0.21,"DDAUnet-noChA2":0.205,"DDAUnet-plusChA1-noChA2":0.22},
      {"x":97500,"DUnet":0.285,"DDUnet":0.27,"DDAUnet-noSpA-plusChA1-noChA2":0.21,"DDAUnet-noChA2":0.205,"DDAUnet-plusChA1-noChA2":0.215},
      {"x":98500,"DUnet":0.28,"DDUnet":0.265,"DDAUnet-noSpA-plusChA1-noChA2":0.215,"DDAUnet-noChA2":0.21,"DDAUnet-plusChA1-noChA2":0.215},
      {"x":99500,"DUnet":0.275,"DDUnet":0.26,"DDAUnet-noSpA-plusChA1-noChA2":0.215,"DDAUnet-noChA2":0.205,"DDAUnet-plusChA1-noChA2":0.215},
      {"x":100500,"DUnet":0.285,"DDUnet":0.26,"DDAUnet-noSpA-plusChA1-noChA2":0.21,"DDAUnet-noChA2":0.205,"DDAUnet-plusChA1-noChA2":0.215},
      {"x":101500,"DUnet":0.275,"DDUnet":0.255,"DDAUnet-noSpA-plusChA1-noChA2":0.21,"DDAUnet-noChA2":0.205,"DDAUnet-plusChA1-noChA2":0.21},
      {"x":102500,"DUnet":0.275,"DDUnet":0.26,"DDAUnet-noSpA-plusChA1-noChA2":0.21,"DDAUnet-noChA2":0.20,"DDAUnet-plusChA1-noChA2":0.21},
      {"x":103500,"DUnet":0.275,"DDUnet":0.26,"DDAUnet-noSpA-plusChA1-noChA2":0.205,"DDAUnet-noChA2":0.20,"DDAUnet-plusChA1-noChA2":0.21},
      {"x":104500,"DUnet":0.28,"DDUnet":0.26,"DDAUnet-noSpA-plusChA1-noChA2":0.205,"DDAUnet-noChA2":0.205,"DDAUnet-plusChA1-noChA2":0.215},
      {"x":105500,"DUnet":0.27,"DDUnet":0.26,"DDAUnet-noSpA-plusChA1-noChA2":0.21,"DDAUnet-noChA2":0.205,"DDAUnet-plusChA1-noChA2":0.215},
      {"x":106500,"DUnet":0.27,"DDUnet":0.26,"DDAUnet-noSpA-plusChA1-noChA2":0.21,"DDAUnet-noChA2":0.20,"DDAUnet-plusChA1-noChA2":0.21},
      {"x":107500,"DUnet":0.27,"DDUnet":0.26,"DDAUnet-noSpA-plusChA1-noChA2":0.205,"DDAUnet-noChA2":0.20,"DDAUnet-plusChA1-noChA2":0.205},
      {"x":108500,"DUnet":0.27,"DDUnet":0.255,"DDAUnet-noSpA-plusChA1-noChA2":0.205,"DDAUnet-noChA2":0.20,"DDAUnet-plusChA1-noChA2":0.21},
      {"x":109500,"DUnet":0.28,"DDUnet":0.26,"DDAUnet-noSpA-plusChA1-noChA2":0.21,"DDAUnet-noChA2":0.205,"DDAUnet-plusChA1-noChA2":0.215},
      {"x":110500,"DUnet":0.28,"DDUnet":0.265,"DDAUnet-noSpA-plusChA1-noChA2":0.205,"DDAUnet-noChA2":0.20,"DDAUnet-plusChA1-noChA2":0.23}
    ]
  },
  "data": {"name": "loss"},
  "transform": [
    {"fold": ["DUnet", "DDUnet", "DDAUnet-noSpA-plusChA1-noChA2", "DDAUnet-noChA2", "DDAUnet-plusChA1-noChA2"], "as": ["model", "loss"]}
  ],
  "layer": [
    {
      "mark": {"type": "line", "strokeWidth": 2.5, "strokeOpacity": 0.6, "clip": true},
      "encoding": {
        "x": {
          "field": "x", "type": "quantitative",
          "scale": {"domain": [-150, 110700], "nice": false, "zero": false},
          "axis": {"values": [20000, 40000, 60000, 80000, 100000], "format": "d", "labelPadding": 6, "title": "Iterations", "titlePadding": 7}
        },
        "y": {
          "field": "loss", "type": "quantitative",
          "scale": {"domain": [0.1144, 0.869], "nice": false, "zero": false},
          "axis": {"values": [0.2, 0.3, 0.4, 0.5, 0.6, 0.7, 0.8], "format": ".1f", "labelPadding": 6, "title": "Loss", "titlePadding": 9}
        },
        "color": {
          "field": "model", "type": "nominal",
          "scale": {
            "domain": ["DUnet", "DDUnet", "DDAUnet-noSpA-plusChA1-noChA2", "DDAUnet-noChA2", "DDAUnet-plusChA1-noChA2"],
            "range": ["#ff0000", "#e9892b", "#8fc571", "#bc709b", "#3f82e6"]
          },
          "legend": {
            "title": null, "orient": "none", "legendX": 39, "legendY": 11,
            "symbolType": "M-1,0H3.4", "symbolSize": 400, "symbolStrokeWidth": 2.7, "symbolOpacity": 0.6,
            "labelFont": "DejaVu Sans", "labelFontWeight": "bold", "labelFontSize": 20.6, "labelColor": "black",
            "labelOffset": 37, "labelLimit": 600, "rowPadding": 8, "padding": 6.7,
            "fillColor": "rgba(255,255,255,0.8)", "strokeColor": "#cccccc", "cornerRadius": 4
          }
        }
      }
    },
    {
      "mark": {"type": "line", "strokeOpacity": 0},
      "encoding": {
        "x": {"field": "x", "type": "quantitative", "axis": {"orient": "top", "labels": false, "ticks": false, "title": null, "domain": true}},
        "y": {"field": "loss", "type": "quantitative"},
        "detail": {"field": "model"}
      }
    }
  ],
  "resolve": {"axis": {"x": "independent"}}
}
